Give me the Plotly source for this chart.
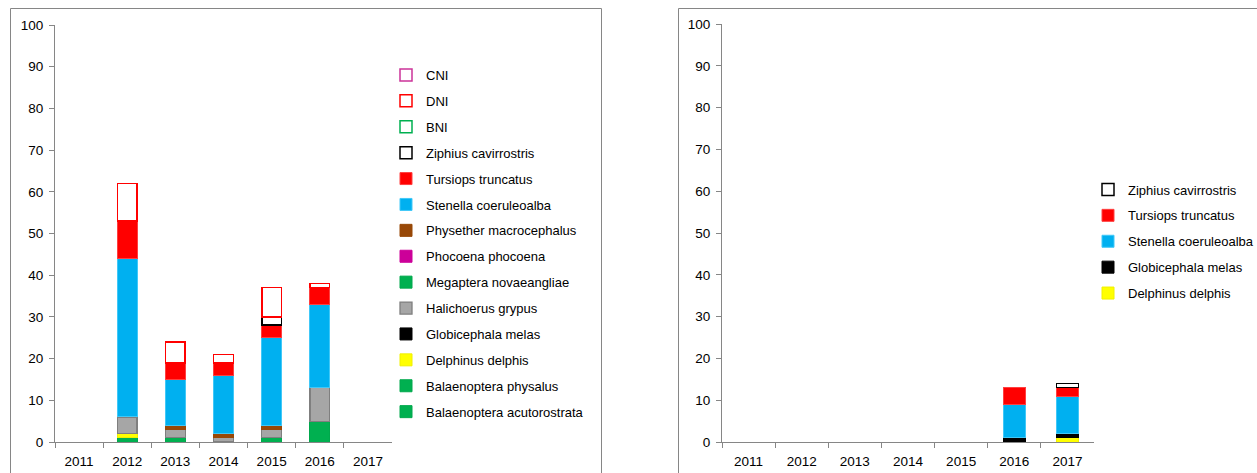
import plotly.graph_objects as go

years = ["2011", "2012", "2013", "2014", "2015", "2016", "2017"]

# Left chart series (stacking order bottom -> top)
left_names = [
    "Balaenoptera acutorostrata", "Balaenoptera physalus", "Delphinus delphis",
    "Globicephala melas", "Halichoerus grypus", "Megaptera novaeangliae",
    "Phocoena phocoena", "Physether macrocephalus", "Stenella coeruleoalba",
    "Tursiops truncatus", "Ziphius cavirrostris", "BNI", "DNI", "CNI",
]
bal_acuto = [0, 1, 1, 0, 1, 0, 0]
bal_physalus = [0, 0, 0, 0, 0, 5, 0]
delphinus = [0, 1, 0, 0, 0, 0, 0]
globicephala = [0, 0, 0, 0, 0, 0, 0]
halichoerus = [0, 4, 2, 1, 2, 8, 0]
megaptera = [0, 0, 0, 0, 0, 0, 0]
phocoena = [0, 0, 0, 0, 0, 0, 0]
physeter = [0, 0, 1, 1, 1, 0, 0]
stenella = [0, 38, 11, 14, 21, 20, 0]
tursiops = [0, 9, 4, 3, 3, 4, 0]
ziphius = [0, 0, 0, 0, 2, 0, 0]
bni = [0, 0, 0, 0, 0, 0, 0]
dni = [0, 9, 5, 2, 7, 1, 0]
cni = [0, 0, 0, 0, 0, 0, 0]
left_values = [bal_acuto, bal_physalus, delphinus, globicephala, halichoerus,
               megaptera, phocoena, physeter, stenella, tursiops, ziphius,
               bni, dni, cni]

# Right chart series (stacking order bottom -> top)
right_names = ["Delphinus delphis", "Globicephala melas", "Stenella coeruleoalba",
               "Tursiops truncatus", "Ziphius cavirrostris"]
delphinus_r = [0, 0, 0, 0, 0, 0, 1]
globicephala_r = [0, 0, 0, 0, 0, 1, 1]
stenella_r = [0, 0, 0, 0, 0, 8, 9]
tursiops_r = [0, 0, 0, 0, 0, 4, 2]
ziphius_r = [0, 0, 0, 0, 0, 0, 1]
right_values = [delphinus_r, globicephala_r, stenella_r, tursiops_r, ziphius_r]

# styles: (fill, outline, outline width)
styles = {
    "Balaenoptera acutorostrata": ("#00B050", "#00A84C", 1),
    "Balaenoptera physalus": ("#00B050", "#00A84C", 1),
    "Delphinus delphis": ("#FFFF00", "#F0F000", 1),
    "Globicephala melas": ("#000000", "#000000", 1),
    "Halichoerus grypus": ("#A6A6A6", "#7F7F7F", 1.3),
    "Megaptera novaeangliae": ("#00B050", "#00A84C", 1),
    "Phocoena phocoena": ("#CC0099", "#CC0099", 1),
    "Physether macrocephalus": ("#984807", "#984807", 1),
    "Stenella coeruleoalba": ("#00B0F0", "#40C8F8", 1),
    "Tursiops truncatus": ("#FF0000", "#FF4040", 1),
    "Ziphius cavirrostris": ("#FFFFFF", "#000000", 1.5),
    "BNI": ("#FFFFFF", "#00B050", 1.5),
    "DNI": ("#FFFFFF", "#FF0000", 1.5),
    "CNI": ("#FFFFFF", "#CC3399", 1.5),
}

W, H = 1257, 473
FONT = "Liberation Sans, Arial, sans-serif"
GRAY = "#868686"

fig = go.Figure()

def nz(vals):
    return [v if v else None for v in vals]

for i, (name, vals) in enumerate(zip(left_names, left_values)):
    fill, line, lw = styles[name]
    fig.add_trace(go.Bar(
        x=years, y=nz(vals), name=name, xaxis="x", yaxis="y",
        marker=dict(color=fill, line=dict(color=line, width=lw)),
        legend="legend", legendgroup="L" + name, legendrank=1000 - i,
        showlegend=True,
    ))

for i, (name, vals) in enumerate(zip(right_names, right_values)):
    fill, line, lw = styles[name]
    fig.add_trace(go.Bar(
        x=years, y=nz(vals), name=name, xaxis="x2", yaxis="y2",
        marker=dict(color=fill, line=dict(color=line, width=lw)),
        legend="legend2", legendgroup="R" + name, legendrank=1000 - i,
        showlegend=True,
    ))

def px_x(p):
    return p / W

def px_y(p):
    return 1 - p / H

axis_common = dict(
    showline=True, linecolor=GRAY, linewidth=1, ticks="outside", ticklen=5,
    tickcolor=GRAY, tickfont=dict(family=FONT, size=13.5, color="#000000"),
    showgrid=False, zeroline=False, fixedrange=True, automargin=False,
)

legend_font = dict(family=FONT, size=13, color="#000000")

fig.update_layout(
    template="none",
    width=W, height=H, margin=dict(l=0, r=0, t=0, b=0, pad=0, autoexpand=False),
    paper_bgcolor="white", plot_bgcolor="white",
    barmode="stack", bargap=0.59,
    font=dict(family=FONT, size=13, color="#000000"),
    xaxis=dict(domain=[px_x(55), px_x(392)], anchor="y", type="category",
               tickson="boundaries", ticklabelstandoff=7, **axis_common),
    yaxis=dict(domain=[px_y(442), px_y(25)], anchor="x", range=[0, 100],
               dtick=10, ticklabelstandoff=3, **axis_common),
    xaxis2=dict(domain=[px_x(722), px_x(1094)], anchor="y2", type="category",
                tickson="boundaries", ticklabelstandoff=7, **axis_common),
    yaxis2=dict(domain=[px_y(442), px_y(24)], anchor="x2", range=[0, 100],
                dtick=10, ticklabelstandoff=3, **axis_common),
    legend=dict(x=px_x(386), y=px_y(60), xanchor="left", yanchor="top",
                traceorder="grouped", tracegroupgap=6, borderwidth=0,
                font=legend_font, bgcolor="rgba(0,0,0,0)"),
    legend2=dict(x=px_x(1088), y=px_y(174.5), xanchor="left", yanchor="top",
                 traceorder="grouped", tracegroupgap=6, borderwidth=0,
                 font=legend_font, bgcolor="rgba(0,0,0,0)"),
    shapes=[
        dict(type="rect", xref="paper", yref="paper",
             x0=px_x(10.5), x1=px_x(601.5), y0=px_y(490), y1=px_y(8.5),
             line=dict(color=GRAY, width=1), fillcolor="rgba(0,0,0,0)", layer="below"),
        dict(type="rect", xref="paper", yref="paper",
             x0=px_x(678.5), x1=px_x(1290), y0=px_y(490), y1=px_y(8.5),
             line=dict(color=GRAY, width=1), fillcolor="rgba(0,0,0,0)", layer="below"),
    ],
)

fig.write_html(
    "out.html",
    config={"displayModeBar": False},
    post_script="document.body.style.margin='0px';document.body.style.overflow='hidden';",
)
